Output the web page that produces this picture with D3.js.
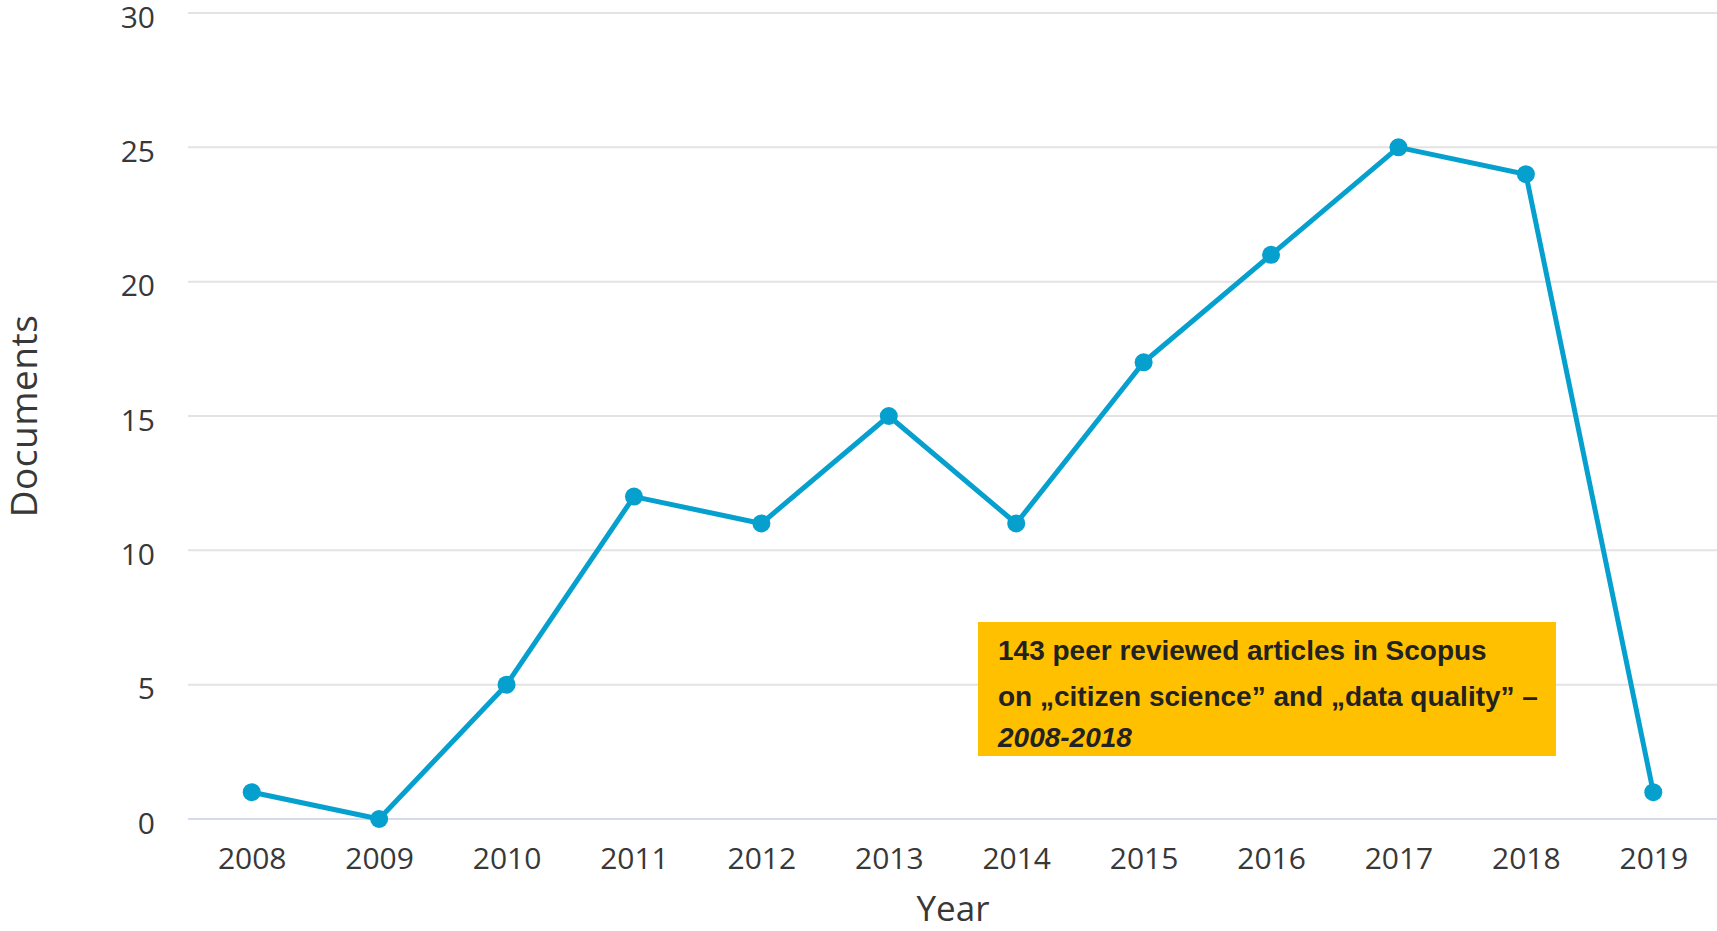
<!DOCTYPE html>
<html>
<head>
<meta charset="utf-8">
<script src="https://cdn.jsdelivr.net/npm/d3@7"></script>
<style>
  html, body { margin: 0; padding: 0; background: #fff; }
  svg { display: block; }
</style>
</head>
<body>
<svg id="chart" width="1717" height="931"></svg>
<script>
// Documents per year
const years = ["2008", "2009", "2010", "2011", "2012", "2013", "2014", "2015", "2016", "2017", "2018", "2019"];
const documents = [1, 0, 5, 12, 11, 15, 11, 17, 21, 25, 24, 1];
const yTicks = [0, 5, 10, 15, 20, 25, 30];
const noteLines = [
  { text: "143 peer reviewed articles in Scopus", italic: false },
  { text: "on \u201Ecitizen science\u201D and \u201Edata quality\u201D \u2013", italic: false },
  { text: "2008-2018", italic: true }
];

const svg = d3.select("#chart");
const W = 1717, H = 931;
const margin = { left: 188, right: 0, top: 13, bottom: 112 };

const x = d3.scalePoint()
  .domain(years)
  .range([margin.left, W - margin.right])
  .padding(0.5);

const y = d3.scaleLinear()
  .domain([0, 30])
  .range([H - margin.bottom, margin.top]);

const labelFont = "'Open Sans', 'DejaVu Sans', sans-serif";
const textColor = "#383838";

// Horizontal grid
svg.append("g")
  .selectAll("line")
  .data(yTicks.filter(d => d !== 0))
  .join("line")
  .attr("x1", margin.left).attr("x2", W)
  .attr("y1", d => y(d)).attr("y2", d => y(d))
  .attr("stroke", "#e3e3e3")
  .attr("stroke-width", 2);

// Baseline
svg.append("line")
  .attr("x1", margin.left).attr("x2", W)
  .attr("y1", y(0)).attr("y2", y(0))
  .attr("stroke", "#d3dbee")
  .attr("stroke-width", 2);

// Y axis labels
const yAxis = d3.axisLeft(y).tickValues(yTicks).tickSize(0).tickPadding(0);
const yg = svg.append("g")
  .attr("transform", `translate(${margin.left - 33},0)`)
  .call(yAxis);
yg.select(".domain").remove();
yg.selectAll("text")
  .attr("font-family", labelFont)
  .attr("font-size", 30)
  .attr("fill", textColor)
  .attr("dy", "0.47em");

// X axis labels
const xAxis = d3.axisBottom(x).tickSize(0).tickPadding(0);
const xg = svg.append("g")
  .attr("transform", `translate(0,${y(0) + 39})`)
  .call(xAxis);
xg.select(".domain").remove();
xg.selectAll("text")
  .attr("font-family", labelFont)
  .attr("font-size", 30)
  .attr("fill", textColor)
  .attr("dy", "0.35em");

// Axis titles
svg.append("text")
  .attr("x", 953).attr("y", 912)
  .attr("text-anchor", "middle")
  .attr("dominant-baseline", "middle")
  .attr("font-family", labelFont)
  .attr("font-size", 35)
  .attr("fill", textColor)
  .text("Year");

svg.append("text")
  .attr("transform", "translate(27,416) rotate(-90)")
  .attr("text-anchor", "middle")
  .attr("dominant-baseline", "middle")
  .attr("font-family", labelFont)
  .attr("font-size", 37)
  .attr("letter-spacing", 0.5)
  .attr("fill", textColor)
  .text("Documents");

// Series
const pts = years.map((yr, i) => ({ yr, v: documents[i] }));
const lineGen = d3.line().x(d => x(d.yr)).y(d => y(d.v));
const blue = "#06a0cf";

svg.append("path")
  .datum(pts)
  .attr("d", lineGen)
  .attr("fill", "none")
  .attr("stroke", blue)
  .attr("stroke-width", 5)
  .attr("stroke-linejoin", "round");

svg.append("g")
  .selectAll("circle")
  .data(pts)
  .join("circle")
  .attr("cx", d => x(d.yr))
  .attr("cy", d => y(d.v))
  .attr("r", 9)
  .attr("fill", blue);

// Note box
const box = { x: 978, y: 622, w: 578, h: 134 };
svg.append("rect")
  .attr("x", box.x).attr("y", box.y)
  .attr("width", box.w).attr("height", box.h)
  .attr("fill", "#ffc000");

svg.append("g")
  .selectAll("text")
  .data(noteLines)
  .join("text")
  .attr("x", box.x + 20)
  .attr("y", (d, i) => [653, 699, 740][i])
  .attr("dominant-baseline", "middle")
  .attr("font-family", "'Liberation Sans', Arial, sans-serif")
  .attr("font-weight", "bold")
  .attr("font-style", d => d.italic ? "italic" : "normal")
  .attr("font-size", 28)
  .attr("fill", "#222")
  .text(d => d.text);
</script>
</body>
</html>
